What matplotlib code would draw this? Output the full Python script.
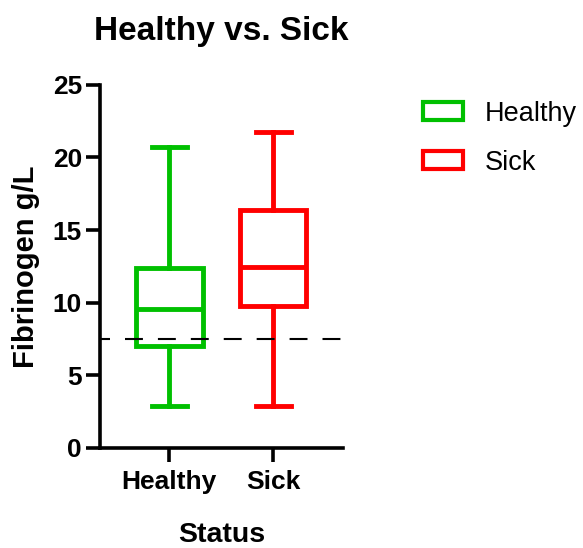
import matplotlib
matplotlib.use("Agg")
import matplotlib.pyplot as plt
from matplotlib.patches import Patch

plt.rcParams['font.family'] = ['Liberation Sans', 'DejaVu Sans']

# Fibrinogen summary statistics per group
groups = ["Healthy", "Sick"]
whisker_low = [2.9, 2.9]
q1 = [7.03, 9.77]
median = [9.55, 12.43]
q3 = [12.37, 16.38]
whisker_high = [20.7, 21.76]
colors = ["#00C000", "#FF0000"]
threshold = 7.5
yticks = [0, 5, 10, 15, 20, 25]

fig = plt.figure(figsize=(5.83, 5.48), dpi=100)
ax = fig.add_axes([0.1715, 0.183, 0.4165, 0.662])

stats = []
for i, g in enumerate(groups):
    stats.append(dict(label=g, whislo=whisker_low[i], q1=q1[i], med=median[i],
                      q3=q3[i], whishi=whisker_high[i], fliers=[]))

lw = 3.5
for i, s in enumerate(stats):
    c = colors[i]
    ax.bxp([s], positions=[i], widths=0.64, capwidths=0.34, showfliers=False,
           patch_artist=True,
           boxprops=dict(facecolor="white", edgecolor=c, linewidth=lw),
           medianprops=dict(color=c, linewidth=lw, solid_capstyle="butt"),
           whiskerprops=dict(color=c, linewidth=lw),
           capprops=dict(color=c, linewidth=lw))

ax.axhline(threshold, color="black", linestyle=(3.8, (8.6, 7.2)), linewidth=1.5,
           xmin=0, xmax=1.01, clip_on=False, zorder=5)

ax.set_xlim(-0.667, 1.67)
ax.set_ylim(0, 25)
ax.set_yticks(yticks)
ax.set_xticks(range(len(groups)))
ax.set_xticklabels(groups)

for side in ["top", "right"]:
    ax.spines[side].set_visible(False)
for side in ["left", "bottom"]:
    ax.spines[side].set_linewidth(2.6)
ax.tick_params(axis="both", width=2.6, length=10, labelsize=19, pad=3)
ax.tick_params(axis="x", pad=6)
for lab in ax.get_xticklabels() + ax.get_yticklabels():
    lab.set_fontweight("bold")

ax.set_ylabel("Fibrinogen g/L", fontsize=21, fontweight="bold", labelpad=9)
ax.set_xlabel("Status", fontsize=20.5, fontweight="bold", labelpad=20)
ax.set_title("Healthy vs. Sick", fontsize=24, fontweight="bold", pad=32)

handles = [Patch(facecolor="white", edgecolor=c, linewidth=3, label=g)
           for g, c in zip(groups, colors)]
fig.legend(handles=handles, loc="upper left", bbox_to_anchor=(423 / 583, 0.816),
           frameon=False, fontsize=19.5, handlelength=1.48, handleheight=0.63,
           labelspacing=0.85, handletextpad=0.8, borderpad=0, borderaxespad=0)

fig.savefig("out.png", dpi=100)
